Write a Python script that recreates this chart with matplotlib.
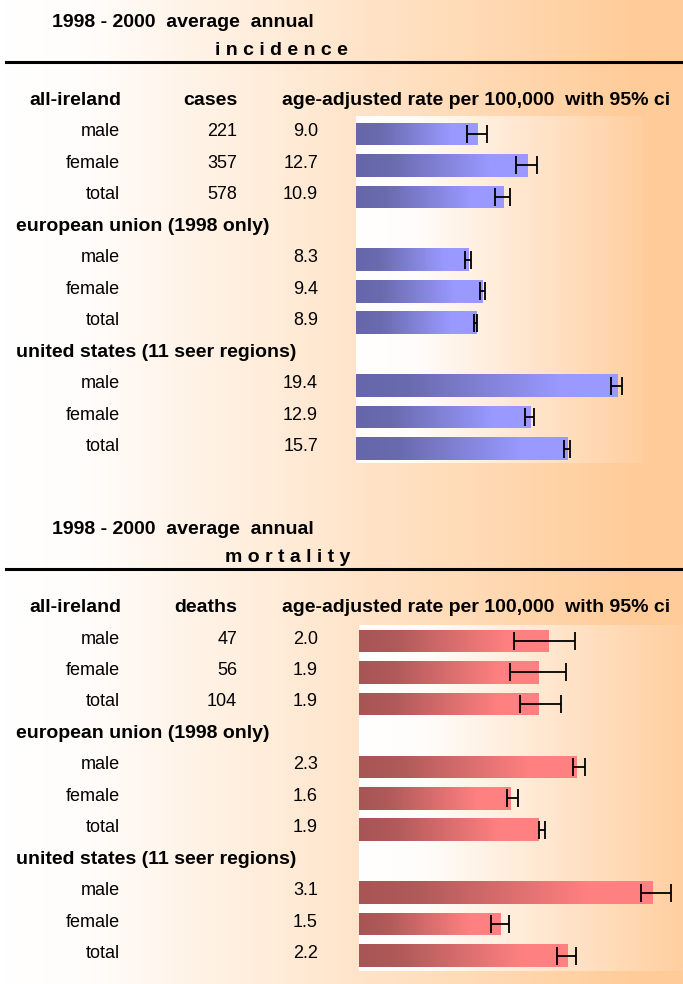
import numpy as np
import matplotlib
matplotlib.use('Agg')
import matplotlib.pyplot as plt
import matplotlib.transforms as mtransforms
from matplotlib.colors import LinearSegmentedColormap
from matplotlib.lines import Line2D

plt.rcParams['font.family'] = ['Liberation Sans', 'DejaVu Sans']

# data
groups = ['all-ireland', 'european union (1998 only)', 'united states (11 seer regions)']
sexes = ['male', 'female', 'total']
rate_header = 'age-adjusted rate per 100,000  with 95% ci'

inc_cases = ['221', '357', '578']
inc_rate = [9.0, 12.7, 10.9, 8.3, 9.4, 8.9, 19.4, 12.9, 15.7]
inc_lo = [8.22, 11.83, 10.27, 8.10, 9.21, 8.72, 18.90, 12.55, 15.40]
inc_hi = [9.70, 13.43, 11.41, 8.50, 9.58, 8.98, 19.70, 13.18, 15.85]

mort_deaths = ['47', '56', '104']
mort_rate = [2.0, 1.9, 1.9, 2.3, 1.6, 1.9, 3.1, 1.5, 2.2]
mort_lo = [1.64, 1.60, 1.70, 2.26, 1.57, 1.90, 2.98, 1.40, 2.09]
mort_hi = [2.28, 2.19, 2.14, 2.39, 1.68, 1.97, 3.30, 1.59, 2.29]

rows = [0, 1, 2, 4, 5, 6, 8, 9, 10]
W, H = 683, 984


def fx(x):
    return x / W


def fy(y):
    return 1 - y / H


fig = plt.figure(figsize=(W / 100, H / 100), dpi=100)

# page background: white -> peach
bg = fig.add_axes([0, 0, 1, 1], zorder=-10)
bg_cmap = LinearSegmentedColormap.from_list(
    'bg', [(0, '#ffffff'), (0.12, '#fffdfb'), (0.93, '#ffcc99'), (1, '#ffcc99')])
bg.imshow(np.linspace(0, 1, 400).reshape(1, -1), cmap=bg_cmap, aspect='auto',
          extent=(0, 1, 0, 1))
bg.set_axis_off()

area_cmap = LinearSegmentedColormap.from_list(
    'area', [(0, '#ffffff'), (0.2, '#fffdfb'), (1, '#ffcfa0')])
inc_cmap = LinearSegmentedColormap.from_list(
    'inc', [(0, '#6666aa'), (0.2, '#6a6aae'), (0.78, '#9999ff'), (1, '#9999ff')])
mort_cmap = LinearSegmentedColormap.from_list(
    'mort', [(0, '#a85555'), (0.2, '#b05a5a'), (0.78, '#ff8080'), (1, '#ff8080')])


def panel(rect, rate, lo, hi, xmax, ylim, cmap):
    ax = fig.add_axes(rect)
    ax.imshow(np.linspace(0, 1, 300).reshape(1, -1), cmap=area_cmap, aspect='auto',
              extent=(0, xmax, ylim[0], ylim[1]), zorder=0)
    bars = ax.barh(rows, rate, height=0.72, color='none', zorder=1)
    grad = np.linspace(0, 1, 256).reshape(1, -1)
    for p in bars.patches:
        im = ax.imshow(grad, cmap=cmap, aspect='auto', zorder=2,
                       extent=(p.get_x(), p.get_x() + p.get_width(),
                               p.get_y() + p.get_height(), p.get_y()))
        im.set_clip_path(p)
    rate = np.array(rate)
    ax.errorbar(rate, rows, xerr=[rate - np.array(lo), np.array(hi) - rate],
                fmt='none', ecolor='black', elinewidth=1.3, capsize=6.5,
                capthick=1.3, zorder=3, clip_on=False)
    ax.set_xlim(0, xmax)
    ax.set_ylim(*ylim)
    ax.set_axis_off()
    return ax


def labels(ax, counts, rate):
    tr = mtransforms.blended_transform_factory(fig.transFigure, ax.transData)
    for i, r in enumerate(rows):
        yb = r + 0.08
        ax.text(fx(120), yb, sexes[i % 3], transform=tr, ha='right', va='baseline',
                fontsize=13)
        if i < 3:
            ax.text(fx(237), yb, counts[i], transform=tr, ha='right', va='baseline',
                    fontsize=13)
        ax.text(fx(318), yb, '%.1f' % rate[i], transform=tr, ha='right',
                va='baseline', fontsize=13)
    for g, r in zip(groups[1:], [3, 7]):
        ax.text(fx(16), r + 0.09, g, transform=tr, ha='left', va='baseline',
                fontsize=14, fontweight='bold')


def heading(top, word, word_x, count_name):
    fig.text(fx(52), fy(top + 27), '1998 - 2000  average  annual', ha='left',
             va='baseline', fontsize=14, fontweight='bold')
    fig.text(fx(word_x), fy(top + 55), ' '.join(word), ha='left', va='baseline',
             fontsize=14, fontweight='bold')
    fig.add_artist(Line2D([fx(6), 1], [fy(top + 62)] * 2, color='black', lw=2.2,
                          transform=fig.transFigure))
    fig.text(fx(29), fy(top + 105), groups[0], ha='left', va='baseline',
             fontsize=14, fontweight='bold')
    fig.text(fx(237), fy(top + 105), count_name, ha='right', va='baseline',
             fontsize=14, fontweight='bold')
    fig.text(fx(282), fy(top + 105), rate_header, ha='left', va='baseline',
             fontsize=14, fontweight='bold')


# incidence
ax1 = panel([fx(356), fy(463), (643 - 356) / W, (463 - 116) / H],
            inc_rate, inc_lo, inc_hi, 21.26, (10.46, -0.57), inc_cmap)
labels(ax1, inc_cases, inc_rate)
heading(0, 'incidence', 215, 'cases')

# mortality
ax2 = panel([fx(359), fy(971), (683 - 359) / W, (971 - 625) / H],
            mort_rate, mort_lo, mort_hi, 3.426, (10.49, -0.51), mort_cmap)
labels(ax2, mort_deaths, mort_rate)
heading(507, 'mortality', 225, 'deaths')

fig.savefig('out.png', dpi=100)
